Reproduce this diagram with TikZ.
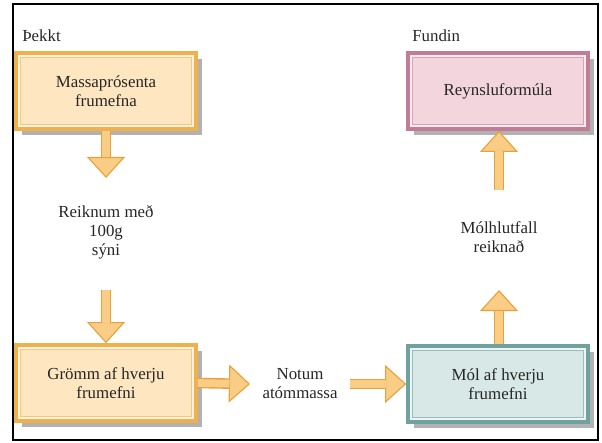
\documentclass[tikz,border=0pt]{standalone}
\usepackage{fontspec}
\setmainfont{Liberation Serif}
\usepackage{tikz}
\usetikzlibrary{arrows.meta,shapes,shadows}
\usetikzlibrary{positioning}
\definecolor{orangeedge}{HTML}{EFB04E}
\definecolor{orangefill}{HTML}{FDE6C0}
\definecolor{orangelight}{HTML}{FFF3DE}
\definecolor{pinkedge}{HTML}{C17C97}
\definecolor{pinkfill}{HTML}{F3D5DD}
\definecolor{pinklight}{HTML}{FBEBEF}
\definecolor{tealedge}{HTML}{6FA29F}
\definecolor{tealfill}{HTML}{D7E8E7}
\definecolor{teallight}{HTML}{EDF5F4}
\definecolor{arrowedge}{HTML}{E8A23C}
\definecolor{arrowfill}{HTML}{F9CD85}
\tikzstyle{txt}=[font=\rmfamily\fontsize{12}{13.5}\selectfont, text=black!85,
                align=center, inner sep=0pt]
\tikzstyle{box}=[txt, rectangle, minimum width=4.5cm, minimum height=1.9cm,
                line width=2.6pt,
                drop shadow={shadow xshift=4pt, shadow yshift=-4pt,
                fill=black, opacity=0.3}]
% inner frame of a box: light band, then a thin line
\newcommand{\innerframe}[2]{%
  \draw[#1, line width=1.6pt] ([shift={(2.1pt,2.1pt)}]path picture bounding box.south west)
     rectangle ([shift={(-2.1pt,-2.1pt)}]path picture bounding box.north east);
  \draw[#2, line width=0.5pt] ([shift={(3.2pt,3.2pt)}]path picture bounding box.south west)
     rectangle ([shift={(-3.2pt,-3.2pt)}]path picture bounding box.north east);}
\tikzstyle{obox}=[box, draw=orangeedge, fill=orangefill,
                path picture={\innerframe{orangelight}{orangeedge!70}}]
\tikzstyle{pbox}=[box, draw=pinkedge, fill=pinkfill,
                path picture={\innerframe{pinklight}{pinkedge!70}}]
\tikzstyle{tbox}=[box, draw=tealedge, fill=tealfill,
                path picture={\innerframe{teallight}{tealedge!70}}]
\tikzstyle{fat}=[line width=7.5pt, draw=arrowedge,
                -{Triangle[width=27pt,length=15pt,fill=arrowfill,line width=0.8pt]},
                postaction={draw=arrowfill, line width=5.5pt, -{}, shorten >=14.6pt}]

\begin{document}
\begin{tikzpicture}
\path[use as bounding box] (0,0) rectangle (15.05,-11.05);
\draw[line width=1.5pt] (0.33,-0.1) rectangle (14.95,-11.0);
% headings
\node[txt, anchor=west] (known) at (0.55,-0.9) {Þekkt};
\node[txt, anchor=west] (found) at (10.3,-0.9) {Fundin};
% boxes
\node[obox] (mass) at (2.65,-2.275) {Massaprósenta\\frumefna};
\node[pbox] (reyn) at (12.45,-2.275) {Reynsluformúla};
\node[obox] (gram) at (2.65,-9.575) {Grömm af hverju\\frumefni};
\node[tbox] (mol) at (12.45,-9.6) {Mól af hverju\\frumefni};
% step labels
\node[txt] (calc) at (2.65,-5.8) {Reiknum með\\100g\\sýni};
\node[txt] (atom) at (7.5,-9.6) {Notum\\atómmassa};
\node[txt] (ratio) at (12.475,-5.925) {Mólhlutfall\\reiknað};
% free arrow ends
\coordinate (d1) at (2.65,-4.45);
\coordinate (d2) at (2.65,-7.25);
\coordinate (r1) at (6.25,-9.6);
\coordinate (r2) at (8.75,-9.6);
\coordinate (u1) at (12.475,-7.25);
\coordinate (u2) at (12.475,-4.75);
\draw[fat] (mass.south) -- (d1);
\draw[fat] (d2) -- (gram.north);
\draw[fat] (gram.east) -- (r1);
\draw[fat] (r2) -- (mol.west);
\draw[fat] (mol.north -| u1) -- (u1);
\draw[fat] (u2) -- (reyn.south -| u2);
\end{tikzpicture}
\end{document}
